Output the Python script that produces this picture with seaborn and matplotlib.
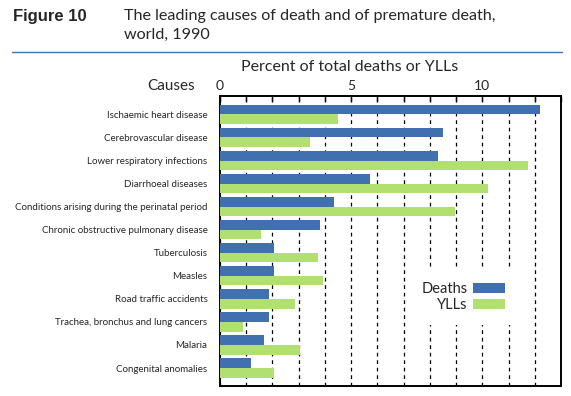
import pandas as pd
import matplotlib.pyplot as plt
import seaborn as sns
from matplotlib.patches import Patch
from matplotlib.ticker import MultipleLocator

sns.set_style("white")
plt.rcParams['font.family'] = ['Lato', 'DejaVu Sans']

causes = [
    "Ischaemic heart disease",
    "Cerebrovascular disease",
    "Lower respiratory infections",
    "Diarrhoeal diseases",
    "Conditions arising during the perinatal period",
    "Chronic obstructive pulmonary disease",
    "Tuberculosis",
    "Measles",
    "Road traffic accidents",
    "Trachea, bronchus and lung cancers",
    "Malaria",
    "Congenital anomalies",
]
deaths = [12.2, 8.5, 8.3, 5.7, 4.35, 3.8, 2.05, 2.05, 1.87, 1.87, 1.68, 1.18]
ylls = [4.5, 3.43, 11.75, 10.2, 8.97, 1.56, 3.74, 3.94, 2.86, 0.88, 3.05, 2.05]
series = ["Deaths", "YLLs"]
colors = ["#4070b0", "#b1df70"]

df = pd.DataFrame({
    "Cause": causes * 2,
    "Measure": [series[0]] * len(causes) + [series[1]] * len(causes),
    "Value": deaths + ylls,
})

fig = plt.figure(figsize=(5.71, 3.96), dpi=100)
ax = fig.add_axes([220 / 571, 10 / 396, 341 / 571, 290 / 396])

sns.barplot(data=df, y="Cause", x="Value", hue="Measure", palette=colors,
            orient="h", width=0.84, saturation=1, linewidth=0, legend=False,
            ax=ax, zorder=3)

ax.set_xlim(0, 13)
ax.set_ylim(11.78, -0.8)
ax.xaxis.set_major_locator(MultipleLocator(1))
ax.set_xticklabels([str(int(v)) if v in (0, 5, 10) else "" for v in ax.get_xticks()])
ax.xaxis.tick_top()
ax.tick_params(axis="x", direction="in", length=4, width=1, color="black",
               labelsize=10, pad=3, top=True, bottom=False)
ax.tick_params(axis="y", length=0, labelsize=7, pad=9)
ax.set_xlabel("")
ax.set_ylabel("")
ax.grid(axis="x", color="black", linestyle=(0, (3, 3)), linewidth=0.9)
ax.set_axisbelow(True)
for s in ax.spines.values():
    s.set_visible(True)
    s.set_color("black")
    s.set_linewidth(1.4)

handles = [Patch(facecolor=c, edgecolor="none") for c in colors]
leg = ax.legend(handles, series, loc="center", bbox_to_anchor=(463 / 571, 1 - 297 / 396),
                bbox_transform=fig.transFigure, markerfirst=False, fontsize=10.5,
                handlelength=2.2, handleheight=0.7, handletextpad=0.35,
                labelspacing=0.15, borderpad=0.9, frameon=True, fancybox=False)
leg.get_frame().set_facecolor("white")
leg.get_frame().set_edgecolor("none")
leg.get_frame().set_alpha(1)
leg.set_zorder(5)

fig.text(13 / 571, 1 - 21 / 396, "Figure 10", fontsize=12, fontweight="bold",
         family="Liberation Sans", va="baseline")
fig.text(124 / 571, 1 - 20 / 396, "The leading causes of death and of premature death,",
         fontsize=11.6, va="baseline")
fig.text(124 / 571, 1 - 39 / 396, "world, 1990", fontsize=11.6, va="baseline")
fig.add_artist(plt.Line2D([12 / 571, 562 / 571], [1 - 52 / 396, 1 - 52 / 396],
                          color="#4070b0", linewidth=1))
fig.text(241 / 571, 1 - 71 / 396, "Percent of total deaths or YLLs", fontsize=11.5,
         va="baseline")
fig.text(195 / 571, 1 - 90 / 396, "Causes", fontsize=11, va="baseline", ha="right")

fig.savefig("out.png", dpi=100)
